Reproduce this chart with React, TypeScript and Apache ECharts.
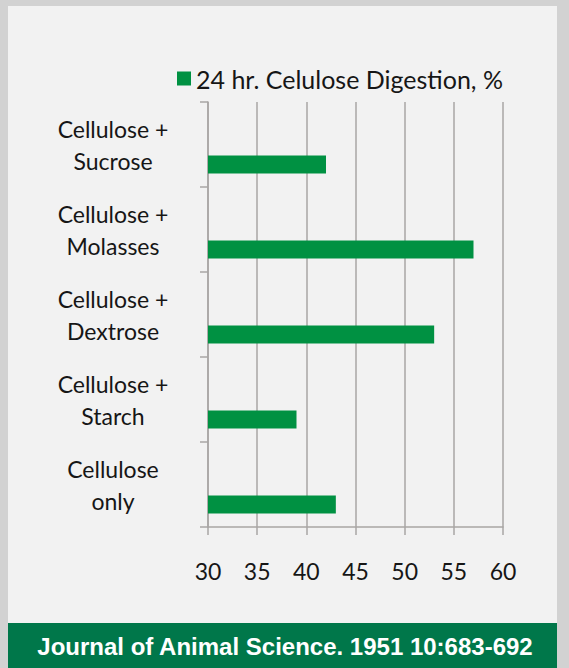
import React, { useEffect, useRef } from "react";
import * as echarts from "echarts";

const categories = [
  "Cellulose +\nSucrose",
  "Cellulose +\nMolasses",
  "Cellulose +\nDextrose",
  "Cellulose +\nStarch",
  "Cellulose\nonly",
];
const digestion = [42, 57, 53, 39, 43];
const seriesName = "24 hr. Celulose Digestion, %";
const xTicks = { min: 30, max: 60, interval: 5 };
const footerText = "Journal of Animal Science. 1951 10:683-692";

export default function App() {
  const ref = useRef<HTMLDivElement>(null);
  useEffect(() => {
    if (!ref.current) return;
    const chart = echarts.init(ref.current, null, { renderer: "svg" });
    const font = "Lato, 'Open Sans', sans-serif";
    chart.setOption({
      animation: false,
      backgroundColor: "#d2d2d2",
      graphic: [
        {
          type: "rect",
          z: -10,
          shape: { x: 8, y: 6, width: 549, height: 662 },
          style: { fill: "#f2f2f2" },
          silent: true,
        },
        {
          type: "rect",
          z: -9,
          shape: { x: 8, y: 623, width: 549, height: 45 },
          style: { fill: "#00774a" },
          silent: true,
        },
        {
          type: "text",
          x: 285,
          y: 646,
          style: {
            text: footerText,
            fill: "#ffffff",
            font: "bold 24px 'Liberation Sans', Arial, sans-serif",
            textAlign: "center",
            textVerticalAlign: "middle",
          },
        },
      ],
      legend: {
        data: [seriesName],
        left: 172,
        top: 61,
        icon: "rect",
        itemWidth: 14,
        itemHeight: 14,
        itemGap: 9,
        textStyle: { fontFamily: font, fontSize: 25, color: "#161616" },
      },
      grid: { left: 208, right: 66, top: 102, bottom: 141, containLabel: false },
      xAxis: {
        type: "value",
        min: xTicks.min,
        max: xTicks.max,
        interval: xTicks.interval,
        axisLine: { show: true, lineStyle: { color: "#a9a6a4", width: 1.5 } },
        axisTick: { show: true, length: 8, lineStyle: { color: "#a9a6a4", width: 1.5 } },
        axisLabel: { margin: 32, fontFamily: font, fontSize: 23, color: "#161616" },
        splitLine: { show: true, lineStyle: { color: "#a9a6a4", width: 1.5 } },
      },
      yAxis: {
        type: "category",
        inverse: true,
        data: categories,
        axisLine: { show: true, lineStyle: { color: "#a9a6a4", width: 1.5 } },
        axisTick: { show: true, length: 8, alignWithLabel: false, lineStyle: { color: "#a9a6a4", width: 1.5 } },
        axisLabel: {
          margin: 95,
          align: "center",
          fontFamily: font,
          fontSize: 23,
          lineHeight: 32,
          color: "#161616",
        },
      },
      series: [
        {
          name: "spacer",
          type: "bar",
          data: categories.map(() => null),
          barWidth: 18,
          barGap: "122%",
          itemStyle: { color: "transparent" },
        },
        {
          name: seriesName,
          type: "bar",
          data: digestion,
          barWidth: 18,
          barGap: "122%",
          itemStyle: { color: "#009142" },
        },
      ],
    });
    return () => chart.dispose();
  }, []);
  return (
    <div
      ref={ref}
      style={{ position: "fixed", left: 0, top: 0, width: 569, height: 668 }}
    />
  );
}
